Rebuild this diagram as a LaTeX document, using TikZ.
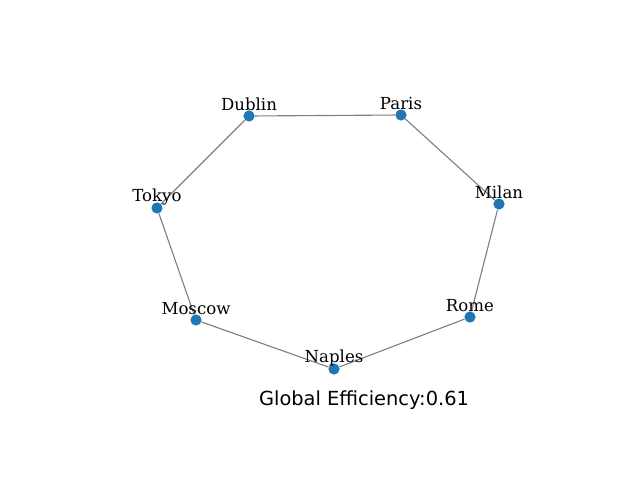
\documentclass[tikz,border=0pt]{standalone}
\usepackage{fontspec}
\setmainfont{DejaVu Serif}
\newfontfamily\titlefont{DejaVu Sans}
\definecolor{nodeblue}{HTML}{1F77B4}
\tikzset{
  city/.style={circle,fill=nodeblue,inner sep=0pt,minimum size=0.28cm},
  citylbl/.style={font=\fontsize{11.8}{14}\selectfont,inner sep=0pt},
  link/.style={draw=gray,line width=0.8pt}
}
\begin{document}
\begin{tikzpicture}
  \useasboundingbox (0,0) rectangle (16,12);
  % cities
  \node[city] (dublin) at (6.225,9.1) {};
  \node[city] (paris) at (10.025,9.125) {};
  \node[city] (milan) at (12.475,6.9) {};
  \node[city] (rome) at (11.75,4.075) {};
  \node[city] (naples) at (8.35,2.775) {};
  \node[city] (moscow) at (4.9,4.0) {};
  \node[city] (tokyo) at (3.925,6.8) {};
  % ring of links
  \foreach \a/\b in {dublin/paris,paris/milan,milan/rome,rome/naples,naples/moscow,moscow/tokyo,tokyo/dublin}
    \draw[link] (\a) -- (\b);
  % names
  \foreach \c/\t in {dublin/Dublin,paris/Paris,milan/Milan,rome/Rome,naples/Naples,moscow/Moscow,tokyo/Tokyo}
    \node[citylbl] (\c-lbl) at ([yshift=0.28cm]\c) {\t};
  \node[font=\titlefont\fontsize{13.8}{16}\selectfont] (title) at (9.1,2.0) {Global Efficiency:0.61};
\end{tikzpicture}
\end{document}
